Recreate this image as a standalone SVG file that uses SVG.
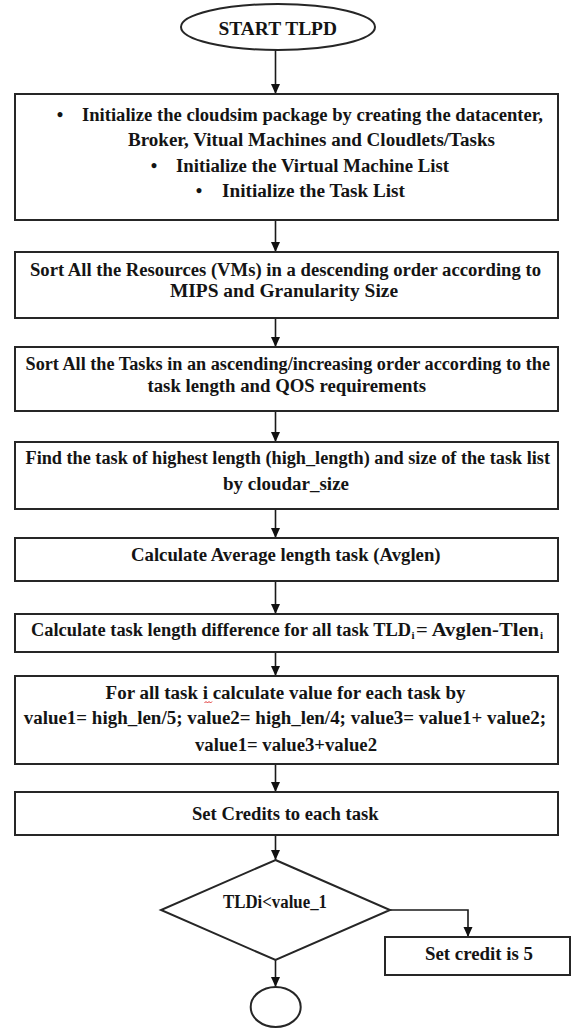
<svg xmlns="http://www.w3.org/2000/svg" width="571" height="1028" viewBox="0 0 571 1028">
<style>
.box{fill:#fff;stroke:#262626;stroke-width:2}
.t{font-family:"Liberation Serif","Times New Roman",serif;font-weight:bold;font-size:18.5px;fill:#141414}
.sub{font-size:11px}
.c{text-anchor:middle}
.conn{fill:none;stroke:#1a1a1a;stroke-width:1.6}
</style>
<defs>
<marker id="ah" markerUnits="userSpaceOnUse" markerWidth="10" markerHeight="10" refX="10" refY="4.5" orient="auto">
<path d="M0,0 L10,4.5 L0,9 Z" fill="#111"/>
</marker>
</defs>
<rect width="571" height="1028" fill="#fff"/>

<g id="connectors">
<path class="conn" d="M275.5,50 V94" marker-end="url(#ah)"/>
<path class="conn" d="M275.5,220 V252" marker-end="url(#ah)"/>
<path class="conn" d="M275.5,318 V347" marker-end="url(#ah)"/>
<path class="conn" d="M275.5,411 V442" marker-end="url(#ah)"/>
<path class="conn" d="M275.5,509 V538" marker-end="url(#ah)"/>
<path class="conn" d="M275.5,581 V614" marker-end="url(#ah)"/>
<path class="conn" d="M275.5,652 V676" marker-end="url(#ah)"/>
<path class="conn" d="M275.5,764 V792" marker-end="url(#ah)"/>
<path class="conn" d="M275.5,835 V860" marker-end="url(#ah)"/>
<path class="conn" d="M390,910 H468 V937" marker-end="url(#ah)"/>
<path class="conn" d="M275.5,960 V987" marker-end="url(#ah)"/>
</g>

<g id="start">
<ellipse class="box" cx="278" cy="27" rx="97" ry="23"/>
<text class="t" x="218.5" y="35" font-size="19" textLength="118.5" lengthAdjust="spacingAndGlyphs">START TLPD</text>
</g>

<g id="init">
<rect class="box" x="15" y="94" width="543" height="126"/>
<text class="t c" x="60" y="121">•</text>
<text class="t" x="82" y="121" textLength="461" lengthAdjust="spacingAndGlyphs">Initialize the cloudsim package by creating the datacenter,</text>
<text class="t" x="128" y="146" textLength="367" lengthAdjust="spacingAndGlyphs">Broker, Vitual Machines and Cloudlets/Tasks</text>
<text class="t c" x="154" y="172">•</text>
<text class="t" x="176" y="172" textLength="273" lengthAdjust="spacingAndGlyphs">Initialize the Virtual Machine List</text>
<text class="t c" x="199" y="197">•</text>
<text class="t" x="222" y="197" textLength="183" lengthAdjust="spacingAndGlyphs">Initialize the Task List</text>
</g>

<g id="sortvm">
<rect class="box" x="15" y="252" width="543" height="66"/>
<text class="t" x="30" y="275.5" textLength="511" lengthAdjust="spacingAndGlyphs">Sort All the Resources (VMs) in a descending order according to</text>
<text class="t" x="170" y="297" textLength="228" lengthAdjust="spacingAndGlyphs">MIPS and Granularity Size</text>
</g>

<g id="sorttask">
<rect class="box" x="15" y="347" width="543" height="64"/>
<text class="t" x="25.5" y="369.5" textLength="524.5" lengthAdjust="spacingAndGlyphs">Sort All the Tasks in an ascending/increasing order according to the</text>
<text class="t" x="147.5" y="392" textLength="278.5" lengthAdjust="spacingAndGlyphs">task length and QOS requirements</text>
</g>

<g id="findhigh">
<rect class="box" x="15" y="442" width="543" height="67"/>
<text class="t" x="25.5" y="464" textLength="524.5" lengthAdjust="spacingAndGlyphs">Find the task of highest length (high_length) and size of the task list</text>
<text class="t" x="223" y="490" textLength="126" lengthAdjust="spacingAndGlyphs">by cloudar_size</text>
</g>

<g id="avg">
<rect class="box" x="15" y="538" width="543" height="43"/>
<text class="t" x="131" y="561" textLength="309.6" lengthAdjust="spacingAndGlyphs">Calculate Average length task (Avglen)</text>
</g>

<g id="tld">
<rect class="box" x="15" y="614" width="543" height="38"/>
<text class="t" x="31" y="636" textLength="380" lengthAdjust="spacingAndGlyphs">Calculate task length difference for all task TLD</text>
<text class="t sub" x="411.5" y="639">i</text>
<text class="t" x="416" y="636" textLength="123" lengthAdjust="spacingAndGlyphs">= Avglen-Tlen</text>
<text class="t sub" x="540" y="639">i</text>
</g>

<g id="values">
<rect class="box" x="15" y="676" width="543" height="88"/>
<text class="t" x="105.6" y="698.5" textLength="360" lengthAdjust="spacingAndGlyphs">For all task i calculate value for each task by</text>
<path d="M204.5,703 l1.5,-1.5 l1.5,1.5 l1.5,-1.5 l1.5,1.5 l1.5,-1.5" fill="none" stroke="#e03030" stroke-width="1"/>
<text class="t" x="23.7" y="724" textLength="522.3" lengthAdjust="spacingAndGlyphs">value1= high_len/5; value2= high_len/4; value3= value1+ value2;</text>
<text class="t" x="195" y="751" textLength="182" lengthAdjust="spacingAndGlyphs">value1= value3+value2</text>
</g>

<g id="credits">
<rect class="box" x="15" y="792" width="543" height="43"/>
<text class="t" x="192" y="819.5" textLength="186.7" lengthAdjust="spacingAndGlyphs">Set Credits to each task</text>
</g>

<g id="decision">
<path class="box" d="M275.5,860 L390,910 L275.5,960 L161,910 Z"/>
<text class="t" x="223" y="908" font-size="17" textLength="104" lengthAdjust="spacingAndGlyphs">TLDi&lt;value_1</text>
</g>

<g id="credit5">
<rect class="box" x="385" y="937" width="185" height="38"/>
<text class="t" x="425" y="960" textLength="108" lengthAdjust="spacingAndGlyphs">Set credit is 5</text>
</g>

<g id="connector-end">
<ellipse class="box" cx="275.7" cy="1007" rx="25" ry="20"/>
</g>
</svg>
